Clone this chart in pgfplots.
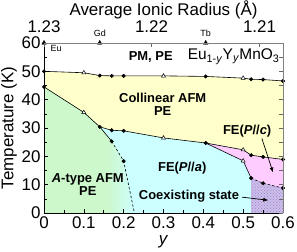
\documentclass[border=0pt]{standalone}
\usepackage{fontspec}
\setmainfont{Liberation Sans}
\usepackage{pgfplots}
\pgfplotsset{compat=1.18}
\usetikzlibrary{patterns,arrows.meta}
\definecolor{cyel}{HTML}{FFFFCC}
\definecolor{ccyan}{HTML}{CCFFFF}
\definecolor{cgreen}{HTML}{CCF8CC}
\definecolor{cpink}{HTML}{FFCCFF}
\definecolor{cpurp}{HTML}{CDBDEB}
\definecolor{cpurpd}{HTML}{9A88C8}
\pgfdeclarehorizontalshading{gtoc}{100bp}{color(0bp)=(cgreen); color(25bp)=(cgreen); color(60bp)=(cgreen); color(75bp)=(ccyan); color(100bp)=(ccyan)}
\newcommand{\fs}[1]{\fontsize{#1}{#1}\selectfont}
\begin{document}
\begin{tikzpicture}
\begin{axis}[
  at={(44bp,39bp)}, anchor=south west,
  width=239bp, height=170bp, scale only axis,
  xmin=0, xmax=0.6, ymin=0, ymax=60,
  axis x line*=bottom, axis y line*=left,
  axis line style={line width=0.7pt, black},
  tick align=inside,
  xtick={0,0.1,0.2,0.3,0.4,0.5,0.6},
  xticklabels={0,0.1,0.2,0.3,0.4,0.5,0.6},
  minor xtick={0.05,0.15,0.25,0.35,0.45,0.55},
  ytick={0,10,20,30,40,50,60},
  minor ytick={5,15,25,35,45,55},
  tick style={black, line width=0.6pt},
  major tick length=4bp, minor tick length=3bp,
  /pgf/number format/assume math mode=true,
  ticklabel style={font=\fs{17}},
  xlabel={\textit{y}}, ylabel={Temperature (K)},
  label style={font=\fs{17}},
  xlabel style={yshift=0bp},
  ylabel style={yshift=-2bp},
  clip=false,
  axis on top,
]
% regions
\addplot[draw=none, fill=cyel] coordinates {(0,50) (0.1,49.5) (0.14,48.5) (0.17,48.4) (0.2,48.4) (0.3,48.4) (0.406,48.2) (0.5,47.6) (0.52,47.2) (0.55,47.1) (0.6,46.6)
  (0.6,18.9) (0.55,19.8) (0.52,20.4) (0.5,22.3) (0.406,24.7) (0.3,26.5) (0.2,29.0) (0.17,29.2) (0.14,30.4) (0.1,35.5) (0,44.5)} -- cycle;
\addplot[draw=none, fill=ccyan] coordinates {(0,0) (0,44.5) (0.1,35.5) (0.14,30.4) (0.17,29.2) (0.2,29.0) (0.3,26.5) (0.406,24.7) (0.5,22.3) (0.52,20.4) (0.55,19.8) (0.6,18.9) (0.6,0)} -- cycle;
\addplot[draw=none, shade, shading=gtoc] coordinates {(0,0) (0,44.5) (0.1,35.5) (0.14,30.4) (0.17,25.3) (0.2,18.3) (0.227,0)} -- cycle;
\addplot[draw=none, fill=cpink] coordinates {(0.406,24.7) (0.5,22.3) (0.52,20.4) (0.55,19.8) (0.6,18.9) (0.6,8.8) (0.55,10.5) (0.52,12.3) (0.5,18.4)} -- cycle;
\addplot[draw=none, fill=cpurp, postaction={pattern=crosshatch dots, pattern color=cpurpd}] coordinates {(0.52,12.3) (0.55,10.5) (0.6,8.8) (0.6,0) (0.52,0)} -- cycle;
% boundaries
\addplot[black, line width=0.6pt] coordinates {(0,50) (0.1,49.5) (0.14,48.5) (0.17,48.4) (0.2,48.4) (0.3,48.4) (0.406,48.2) (0.5,47.6) (0.52,47.2) (0.55,47.1) (0.6,46.6)};
\addplot[black, line width=0.6pt] coordinates {(0,44.5) (0.1,35.5) (0.14,30.4) (0.17,29.2) (0.2,29.0) (0.3,26.5) (0.406,24.7) (0.5,22.3) (0.52,20.4) (0.55,19.8) (0.6,18.9)};
\addplot[black, line width=0.6pt] coordinates {(0.14,30.4) (0.17,25.3)};
\addplot[black, line width=0.6pt, dash pattern=on 2.5pt off 2pt] coordinates {(0.17,25.3) (0.2,18.3) (0.227,0)};
\addplot[black, line width=0.6pt] coordinates {(0.406,24.7) (0.5,18.4) (0.52,12.3)};
\addplot[black, line width=0.6pt, dash pattern=on 2.5pt off 2pt] coordinates {(0.52,12.3) (0.55,10.5) (0.6,8.8)};
% markers
\addplot[only marks, mark=*, mark size=1.8pt, black] coordinates {(0,50) (0.14,48.5) (0.17,48.4) (0.2,48.4) (0.406,48.2) (0.52,47.2) (0.55,47.1) (0.6,46.6)
  (0,44.5) (0.14,30.4) (0.17,29.2) (0.2,29.0) (0.406,24.7) (0.52,20.4) (0.55,19.8) (0.6,18.9)
  (0.17,25.3) (0.2,18.3) (0.52,12.3) (0.55,10.5) (0.6,8.8)};
\addplot[only marks, mark=triangle*, mark size=2.3pt, mark options={fill=white, draw=black, line width=0.5pt}] coordinates {(0.1,49.5) (0.3,48.4) (0.5,47.6) (0.1,35.5) (0.3,26.5) (0.5,22.3) (0.5,18.4)};
\addplot[only marks, mark=triangle*, mark size=2.6pt, black] coordinates {(0,60) (0.14,60) (0.406,60)};
% labels
\node[font=\fs{9}, anchor=west] at (axis cs:0.008,57.9) {Eu};
\node[font=\fs{9}] at (axis cs:0.14,63.6) {Gd};
\node[font=\fs{9}] at (axis cs:0.406,63.6) {Tb};
\node[font=\bfseries\fs{13}] at (axis cs:0.268,55) {PM, PE};
\node[font=\fs{15.5}] at (axis cs:0.476,55.2) {Eu\textsubscript{1-\textit{y}}Y\textsubscript{\textit{y}}MnO\textsubscript{3}};
\node[font=\bfseries\fs{13}, align=center] at (axis cs:0.298,38.3) {Collinear AFM\\PE};
\node[font=\bfseries\fs{13}, align=center] at (axis cs:0.11,10.1) {\textit{A}-type AFM\\PE};
\node[font=\bfseries\fs{13}] at (axis cs:0.347,16.0) {FE(\textit{P}//\textit{a})};
\node[font=\bfseries\fs{13}] at (axis cs:0.51,28.8) {FE(\textit{P}//\textit{c})};
\node[font=\bfseries\fs{13}] at (axis cs:0.364,5.9) {Coexisting state};
\draw[-{Latex[length=5pt,width=4pt]}, line width=0.7pt] (axis cs:0.547,26.3) -- (axis cs:0.575,14.3);
\draw[-{Latex[length=5pt,width=4pt]}, line width=0.7pt] (axis cs:0.497,5.6) -- (axis cs:0.563,4.5);
\end{axis}
\begin{axis}[
  at={(44bp,39bp)}, anchor=south west,
  width=239bp, height=170bp, scale only axis,
  xmin=0, xmax=0.6, ymin=0, ymax=60,
  axis x line*=top, axis y line*=right,
  axis line style={line width=0.7pt, gray},
  tick align=inside,
  xtick={0,0.27,0.541}, xticklabels={1.23,1.22,1.21},
  ytick={0,5,...,60}, yticklabels={},
  tick style={gray!80!black, line width=0.6pt},
  major tick length=4bp,
  ticklabel style={font=\fs{17}},
  xticklabel style={yshift=7bp},
  xlabel={Average Ionic Radius (Å)},
  label style={font=\fs{17}},
  xlabel style={yshift=-5.5bp},
]
\end{axis}
\pgfresetboundingbox
\path (0,0) rectangle (297bp,252bp);
\end{tikzpicture}
\end{document}
